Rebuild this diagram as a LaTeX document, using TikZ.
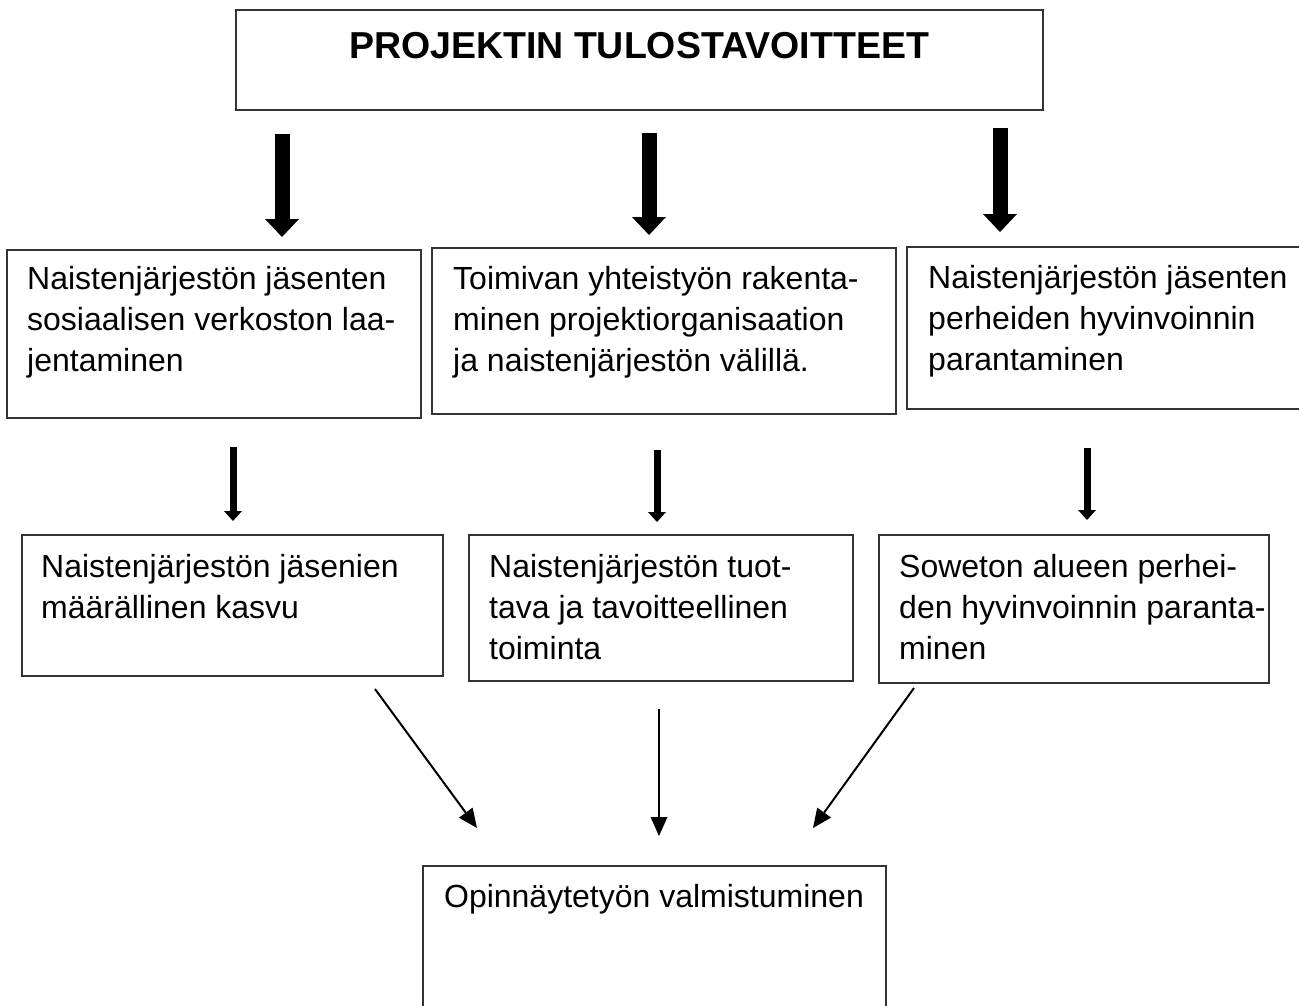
\documentclass[tikz,border=0pt]{standalone}
\usepackage{fontspec}
\setmainfont{Liberation Sans}
\usetikzlibrary{arrows.meta}
\begin{document}
\begin{tikzpicture}[x=1pt,y=-1pt,
  box/.style={draw=black!80, line width=1.4pt, rectangle, inner sep=0pt, outer sep=0pt, anchor=north west},
  txt/.style={anchor=base west, inner sep=0pt, font=\fontsize{32}{41}\selectfont},
  bigarr/.style={line width=15pt, -{Triangle[width=34pt,length=18pt,line width=0pt]}},
  midarr/.style={line width=7pt, -{Triangle[width=18pt,length=10pt,line width=0pt]}},
  thinarr/.style={line width=2pt, -{Triangle[width=17pt,length=19pt,line width=0pt]}}]
\useasboundingbox (0,0) rectangle (1299,1005);
\clip (0,0) rectangle (1299,1005);
% title
\node[box, minimum width=807pt, minimum height=100pt] (T) at (236,10) {};
\node[anchor=base, inner sep=0pt, font=\fontsize{37.5}{40}\selectfont\bfseries] (Tt) at (639,58) {PROJEKTIN TULOSTAVOITTEET};
% row 1 boxes
\node[box, minimum width=414pt, minimum height=168pt] (A) at (7,250) {};
\node[txt] (At) at (27,289) {\parbox[t]{480pt}{Naistenjärjestön jäsenten\\sosiaalisen verkoston laa-\\jentaminen}};
\node[box, minimum width=464pt, minimum height=166pt] (B) at (432,248) {};
\node[txt] (Bt) at (453,289) {\parbox[t]{480pt}{Toimivan yhteistyön rakenta-\\minen projektiorganisaation\\ja naistenjärjestön välillä.}};
\node[box, minimum width=420pt, minimum height=162pt] (C) at (907,247) {};
\node[txt] (Ct) at (928,288) {\parbox[t]{480pt}{Naistenjärjestön jäsenten\\perheiden hyvinvoinnin\\parantaminen}};
% row 2 boxes
\node[box, minimum width=421pt, minimum height=141pt] (D) at (22,535) {};
\node[txt] (Dt) at (41,577) {\parbox[t]{480pt}{Naistenjärjestön jäsenien\\määrällinen kasvu}};
\node[box, minimum width=384pt, minimum height=146pt] (E) at (469,535) {};
\node[txt] (Et) at (489,577) {\parbox[t]{480pt}{Naistenjärjestön tuot-\\tava ja tavoitteellinen\\toiminta}};
\node[box, minimum width=390pt, minimum height=148pt] (F) at (879,535) {};
\node[txt] (Ft) at (899,577) {\parbox[t]{480pt}{Soweton alueen perhei-\\den hyvinvoinnin paranta-\\minen}};
% bottom box
\node[box, minimum width=463pt, minimum height=200pt] (G) at (423,866) {};
\node[anchor=base, inner sep=0pt, font=\fontsize{32}{41}\selectfont] (Gt) at (654,907) {Opinnäytetyön valmistuminen};
% row 1 arrows
\coordinate (a1s) at (282,134); \coordinate (a1e) at (282,237);
\coordinate (a2s) at (649,133); \coordinate (a2e) at (649,235);
\coordinate (a3s) at (1000,128); \coordinate (a3e) at (1000,232);
\draw[bigarr] (a1s) -- (a1e);
\draw[bigarr] (a2s) -- (a2e);
\draw[bigarr] (a3s) -- (a3e);
% row 2 arrows
\coordinate (b1s) at (233,447); \coordinate (b1e) at (233,521);
\coordinate (b2s) at (657,450); \coordinate (b2e) at (657,522);
\coordinate (b3s) at (1087,448); \coordinate (b3e) at (1087,520);
\draw[midarr] (b1s) -- (b1e);
\draw[midarr] (b2s) -- (b2e);
\draw[midarr] (b3s) -- (b3e);
% row 3 arrows
\coordinate (c1s) at (375,689); \coordinate (c1e) at (477,828);
\coordinate (c2s) at (659,709); \coordinate (c2e) at (659,836);
\coordinate (c3s) at (914,688); \coordinate (c3e) at (813,828);
\draw[thinarr] (c1s) -- (c1e);
\draw[thinarr] (c2s) -- (c2e);
\draw[thinarr] (c3s) -- (c3e);
\end{tikzpicture}
\end{document}
